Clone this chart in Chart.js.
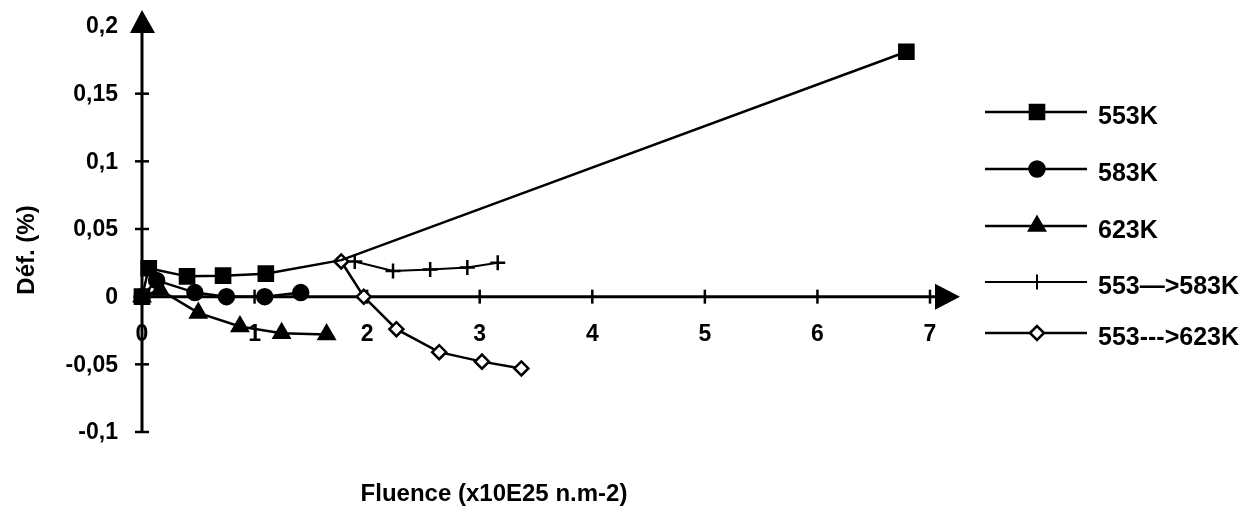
<!DOCTYPE html>
<html>
<head>
<meta charset="utf-8">
<script src="https://cdn.jsdelivr.net/npm/chart.js@4.4.0/dist/chart.umd.min.js"></script>
<style>
html,body{margin:0;padding:0;background:#fff;}
#wrap{width:1255px;height:519px;position:relative;}
</style>
</head>
<body>
<div id="wrap"><canvas id="c"></canvas></div>
<script>
// ---- data ----
const x553 = [0, 0.06, 0.40, 0.72, 1.10, 1.77, 6.79];
const y553 = [0, 0.021, 0.015, 0.0155, 0.017, 0.027, 0.181];
const x583 = [0, 0.13, 0.47, 0.75, 1.09, 1.41];
const y583 = [0, 0.012, 0.003, 0.0, 0.0, 0.003];
const x623 = [0, 0.16, 0.50, 0.87, 1.24, 1.64];
const y623 = [0, 0.005, -0.012, -0.022, -0.027, -0.028];
const x553to583 = [1.89, 2.23, 2.56, 2.89, 3.16];
const y553to583 = [0.026, 0.019, 0.020, 0.0215, 0.025];
const x553to623 = [1.77, 1.97, 2.26, 2.64, 3.02, 3.37];
const y553to623 = [0.026, 0.0, -0.024, -0.041, -0.048, -0.053];

const seriesNames = ['553K', '583K', '623K', '553\u2014>583K', '553--->623K'];
const xTickValues = [0, 1, 2, 3, 4, 5, 6, 7];
const xTickLabels = ['0', '1', '2', '3', '4', '5', '6', '7'];
const yTickValues = [-0.1, -0.05, 0, 0.05, 0.1, 0.15, 0.2];
const yTickLabels = ['-0,1', '-0,05', '0', '0,05', '0,1', '0,15', '0,2'];
const xTitle = 'Fluence (x10E25 n.m-2)';
const yTitle = 'D\u00e9f. (%)';

function pts(xs, ys) { return xs.map((x, i) => ({ x: x, y: ys[i] })); }

const FONT = '"Liberation Sans", Arial, sans-serif';

const datasets = [
  { label: seriesNames[0], data: pts(x553, y553), pointStyle: 'rect',
    pointRadius: [10, 10, 10, 10, 10, 0, 10], borderWidth: 2.5, pointBackgroundColor: '#000' },
  { label: seriesNames[1], data: pts(x583, y583), pointStyle: 'circle',
    pointRadius: 7.5, borderWidth: 2.5, pointBackgroundColor: '#000' },
  { label: seriesNames[2], data: pts(x623, y623), pointStyle: 'triangle',
    pointRadius: 9, borderWidth: 2.5, pointBackgroundColor: '#000' },
  { label: seriesNames[3], data: pts(x553to583, y553to583), pointStyle: 'cross',
    pointRadius: 7.5, borderWidth: 2, pointBorderWidth: 2.5, pointBackgroundColor: '#000' },
  { label: seriesNames[4], data: pts(x553to623, y553to623), pointStyle: 'rectRot',
    pointRadius: 7, borderWidth: 2.5, pointBorderWidth: 2.5, pointBackgroundColor: '#fff' }
].map(d => Object.assign({
  showLine: true, borderColor: '#000', pointBorderColor: '#000', clip: false,
  pointHoverRadius: 0, tension: 0
}, d));

const axesPlugin = {
  id: 'axesPlugin',
  beforeDatasetsDraw(chart) {
    const ctx = chart.ctx, xs = chart.scales.x, ys = chart.scales.y;
    const x0 = xs.getPixelForValue(0), y0 = ys.getPixelForValue(0);
    const yBot = ys.getPixelForValue(-0.1), yTop = ys.getPixelForValue(0.2);
    const xEnd = xs.getPixelForValue(7);
    ctx.save();
    ctx.strokeStyle = '#000'; ctx.fillStyle = '#000'; ctx.lineWidth = 3;
    // y axis
    ctx.beginPath(); ctx.moveTo(x0, yBot); ctx.lineTo(x0, yTop - 2); ctx.stroke();
    ctx.beginPath(); ctx.moveTo(x0, yTop - 16); ctx.lineTo(x0 - 12, yTop + 7); ctx.lineTo(x0 + 13, yTop + 7); ctx.closePath(); ctx.fill();
    // x axis
    ctx.beginPath(); ctx.moveTo(x0, y0); ctx.lineTo(xEnd + 6, y0); ctx.stroke();
    ctx.beginPath(); ctx.moveTo(xEnd + 30, y0); ctx.lineTo(xEnd + 5, y0 - 13); ctx.lineTo(xEnd + 5, y0 + 13); ctx.closePath(); ctx.fill();
    // tick marks
    ctx.lineWidth = 2.5;
    yTickValues.forEach(v => {
      if (v === 0.2) return;
      const y = ys.getPixelForValue(v);
      ctx.beginPath(); ctx.moveTo(x0 - 7, y); ctx.lineTo(x0 + 7, y); ctx.stroke();
    });
    xTickValues.forEach(v => {
      const x = xs.getPixelForValue(v);
      ctx.beginPath(); ctx.moveTo(x, y0 - 7); ctx.lineTo(x, y0 + 7); ctx.stroke();
    });
    ctx.restore();
  },
  afterDraw(chart) {
    const ctx = chart.ctx, xs = chart.scales.x, ys = chart.scales.y;
    const x0 = xs.getPixelForValue(0), y0 = ys.getPixelForValue(0);
    ctx.save();
    ctx.fillStyle = '#000';
    // y tick labels
    ctx.font = 'bold 23px ' + FONT;
    ctx.textAlign = 'right'; ctx.textBaseline = 'middle';
    yTickValues.forEach((v, i) => {
      ctx.fillText(yTickLabels[i], x0 - 24, ys.getPixelForValue(v) + 1);
    });
    // x tick labels
    ctx.textAlign = 'center';
    xTickValues.forEach((v, i) => {
      ctx.fillText(xTickLabels[i], xs.getPixelForValue(v), y0 + 38);
    });
    // axis titles
    ctx.font = 'bold 24px ' + FONT;
    ctx.fillText(xTitle, 494, 494);
    ctx.save();
    ctx.translate(27, 250); ctx.rotate(-Math.PI / 2);
    ctx.fillText(yTitle, 0, 0);
    ctx.restore();
    // legend
    const legY = [112, 169, 226, 282, 333];
    chart.data.datasets.forEach((ds, i) => {
      const y = legY[i];
      ctx.strokeStyle = '#000';
      ctx.lineWidth = ds.borderWidth;
      ctx.beginPath(); ctx.moveTo(985, y); ctx.lineTo(1087, y); ctx.stroke();
      ctx.fillStyle = ds.pointBackgroundColor;
      Chart.helpers.drawPoint(ctx, {
        pointStyle: ds.pointStyle,
        radius: Array.isArray(ds.pointRadius) ? ds.pointRadius[0] : ds.pointRadius,
        rotation: 0,
        borderWidth: ds.pointBorderWidth || 2
      }, 1037, y);
      ctx.fillStyle = '#000';
      ctx.font = 'bold 25px ' + FONT;
      ctx.textAlign = 'left'; ctx.textBaseline = 'middle';
      ctx.fillText(ds.label, 1098, y + 5);
    });
    ctx.restore();
  }
};

new Chart(document.getElementById('c'), {
  type: 'scatter',
  data: { datasets: datasets },
  options: {
    responsive: true, maintainAspectRatio: false, animation: false,
    events: [],
    layout: { padding: { left: 142, right: 325, top: 26, bottom: 87 } },
    plugins: { legend: { display: false }, tooltip: { enabled: false } },
    scales: {
      x: { type: 'linear', min: 0, max: 7, display: false },
      y: { type: 'linear', min: -0.1, max: 0.2, display: false }
    }
  },
  plugins: [axesPlugin]
});
</script>
</body>
</html>
